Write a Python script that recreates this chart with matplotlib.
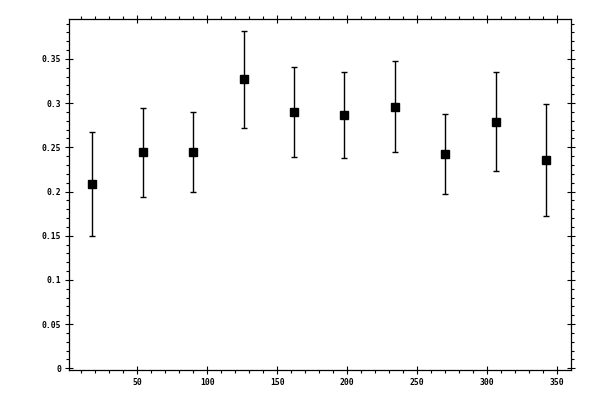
import numpy as np
import matplotlib
matplotlib.use("Agg")
import matplotlib.pyplot as plt
from matplotlib.ticker import MultipleLocator, FuncFormatter

x_centres = [18, 54, 90, 126, 162, 198, 234, 270, 306, 342]
y_values = [0.208, 0.245, 0.245, 0.327, 0.290, 0.287, 0.296, 0.242, 0.279, 0.236]
y_upper = [0.267, 0.295, 0.290, 0.382, 0.341, 0.335, 0.348, 0.288, 0.335, 0.299]
y_lower = [0.150, 0.194, 0.199, 0.272, 0.239, 0.238, 0.245, 0.197, 0.223, 0.172]

y = np.array(y_values)
err = [y - np.array(y_lower), np.array(y_upper) - y]

fig = plt.figure(figsize=(6, 4), dpi=100)
ax = fig.add_axes([0.1155, 0.075, 0.8355, 0.877])

ax.errorbar(
    x_centres,
    y,
    yerr=err,
    fmt="s",
    color="black",
    markersize=5.2,
    elinewidth=1.0,
    capsize=2.4,
    capthick=1.0,
)

ax.set_xlim(1.5, 359.5)
ax.set_ylim(-0.002, 0.395)

ax.xaxis.set_major_locator(MultipleLocator(50))
ax.xaxis.set_minor_locator(MultipleLocator(10))
ax.yaxis.set_major_locator(MultipleLocator(0.05))
ax.yaxis.set_minor_locator(MultipleLocator(0.01))


def fmt_y(v, pos):
    s = "%.2f" % v
    s = s.rstrip("0").rstrip(".")
    return s if s else "0"


ax.yaxis.set_major_formatter(FuncFormatter(fmt_y))
ax.xaxis.set_major_formatter(FuncFormatter(lambda v, pos: "%d" % v if v > 0 else ""))

ax.tick_params(which="major", direction="inout", length=6, width=0.8,
               top=True, right=True, labelsize=5.8, pad=3)
ax.tick_params(which="minor", direction="out", length=2.4, width=0.8,
               top=True, right=True)
for lab in ax.get_xticklabels() + ax.get_yticklabels():
    lab.set_family("DejaVu Sans Mono")
    lab.set_weight("bold")

for sp in ax.spines.values():
    sp.set_linewidth(0.9)

fig.savefig("out.png", dpi=100)
